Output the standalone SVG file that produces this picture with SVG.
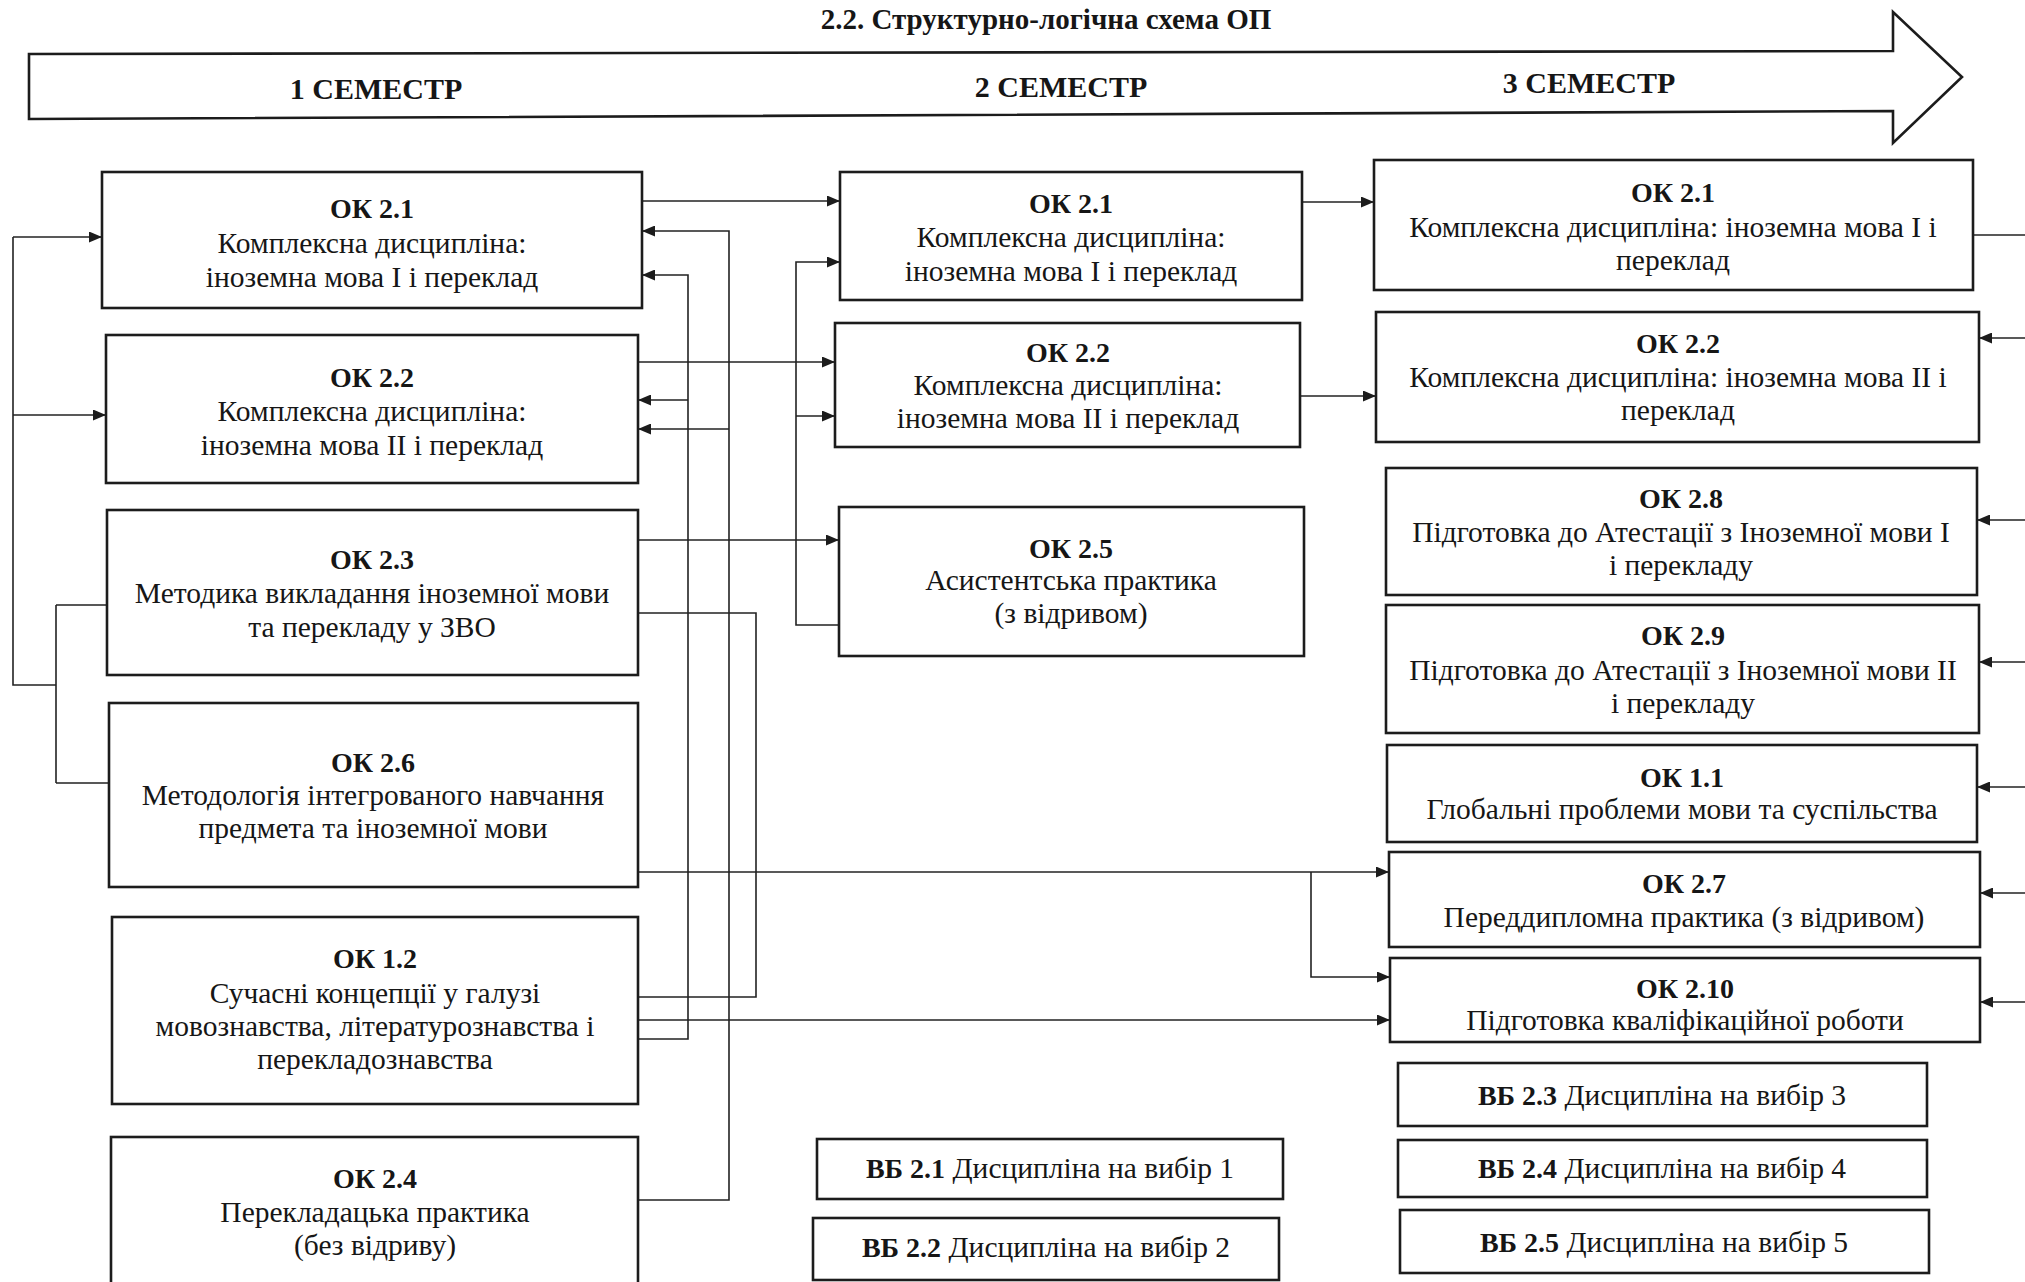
<svg xmlns="http://www.w3.org/2000/svg" width="2025" height="1282" viewBox="0 0 2025 1282">
<style>
.box{fill:#fff;stroke:#1c1c1c;stroke-width:2.6}
.ln{fill:none;stroke:#222;stroke-width:1.6}
.ar{fill:none;stroke:#222;stroke-width:1.6;marker-end:url(#ah)}
text{font-family:"Liberation Serif","Times New Roman",serif;font-size:29.5px;fill:#161616;text-anchor:middle}
.b{font-weight:bold;font-size:28px}
.sem{font-weight:bold;font-size:30px}
.ttl{font-weight:bold;font-size:29px}
</style>
<defs>
<marker id="ah" viewBox="0 0 13 11" refX="13" refY="5.5" markerWidth="13" markerHeight="11" markerUnits="userSpaceOnUse" orient="auto">
<path d="M0,0 L13,5.5 L0,11 z" fill="#1c1c1c"/>
</marker>
</defs>
<rect width="2025" height="1282" fill="#fff"/>

<g id="header">
<polygon points="29,54 1893,51 1893,12 1962,77 1893,143 1893,111 29,119" fill="#fff" stroke="#1c1c1c" stroke-width="2.6"/>
<text class="ttl" x="1046" y="29">2.2. Структурно-логічна схема ОП</text>
<text class="sem" x="376" y="99">1 СЕМЕСТР</text>
<text class="sem" x="1061" y="97">2 СЕМЕСТР</text>
<text class="sem" x="1589" y="93">3 СЕМЕСТР</text>
</g>

<g id="connectors">
<path class="ln" d="M13,237 V685 H56"/>
<path class="ar" d="M13,237 H102"/>
<path class="ar" d="M13,415 H106"/>
<path class="ln" d="M56,605 V783 M56,605 H107 M56,783 H109"/>
<path class="ar" d="M642,201 H840"/>
<path class="ar" d="M638,362 H835"/>
<path class="ar" d="M638,540 H839"/>
<path class="ar" d="M638,1200 H729 V231 H642"/>
<path class="ar" d="M729,429 H638"/>
<path class="ar" d="M638,1039 H688 V275 H642"/>
<path class="ar" d="M688,400 H638"/>
<path class="ln" d="M638,613 H756 V997 H638"/>
<path class="ar" d="M839,625 H796 V262 H840"/>
<path class="ar" d="M796,416 H835"/>
<path class="ar" d="M638,872 H1389"/>
<path class="ar" d="M1311,872 V977 H1390"/>
<path class="ar" d="M638,1020 H1390"/>
<path class="ar" d="M1302,202 H1374"/>
<path class="ar" d="M1300,396 H1376"/>
<path class="ln" d="M1973,235 H2025"/>
<path class="ar" d="M2025,338 H1979"/>
<path class="ar" d="M2025,520 H1977"/>
<path class="ar" d="M2025,662 H1979"/>
<path class="ar" d="M2025,787 H1977"/>
<path class="ar" d="M2025,893 H1980"/>
<path class="ar" d="M2025,1002 H1980"/>
</g>

<g id="c1-ok21"><rect class="box" x="102" y="172" width="540" height="136"/>
<text class="b" x="372" y="218">ОК 2.1</text><text x="372" y="253">Комплексна дисципліна:</text><text x="372" y="287">іноземна мова І і переклад</text></g>
<g id="c1-ok22"><rect class="box" x="106" y="335" width="532" height="148"/>
<text class="b" x="372" y="387">ОК 2.2</text><text x="372" y="421">Комплексна дисципліна:</text><text x="372" y="455">іноземна мова ІІ і переклад</text></g>
<g id="c1-ok23"><rect class="box" x="107" y="510" width="531" height="165"/>
<text class="b" x="372" y="569">ОК 2.3</text><text x="372" y="603">Методика викладання іноземної мови</text><text x="372" y="637">та перекладу у ЗВО</text></g>
<g id="c1-ok26"><rect class="box" x="109" y="703" width="529" height="184"/>
<text class="b" x="373" y="772">ОК 2.6</text><text x="373" y="805">Методологія інтегрованого навчання</text><text x="373" y="838">предмета та іноземної мови</text></g>
<g id="c1-ok12"><rect class="box" x="112" y="917" width="526" height="187"/>
<text class="b" x="375" y="968">ОК 1.2</text><text x="375" y="1003">Сучасні концепції у галузі</text><text x="375" y="1036">мовознавства, літературознавства і</text><text x="375" y="1069">перекладознавства</text></g>
<g id="c1-ok24"><rect class="box" x="111" y="1137" width="527" height="170"/>
<text class="b" x="375" y="1188">ОК 2.4</text><text x="375" y="1222">Перекладацька практика</text><text x="375" y="1255">(без відриву)</text></g>

<g id="c2-ok21"><rect class="box" x="840" y="172" width="462" height="128"/>
<text class="b" x="1071" y="213">ОК 2.1</text><text x="1071" y="247">Комплексна дисципліна:</text><text x="1071" y="281">іноземна мова І і переклад</text></g>
<g id="c2-ok22"><rect class="box" x="835" y="323" width="465" height="124"/>
<text class="b" x="1068" y="362">ОК 2.2</text><text x="1068" y="395">Комплексна дисципліна:</text><text x="1068" y="428">іноземна мова ІІ і переклад</text></g>
<g id="c2-ok25"><rect class="box" x="839" y="507" width="465" height="149"/>
<text class="b" x="1071" y="558">ОК 2.5</text><text x="1071" y="590">Асистентська практика</text><text x="1071" y="623">(з відривом)</text></g>
<g id="vb21"><rect class="box" x="817" y="1139" width="466" height="60"/>
<text x="1050" y="1178"><tspan class="b">ВБ 2.1</tspan> Дисципліна на вибір 1</text></g>
<g id="vb22"><rect class="box" x="813" y="1218" width="466" height="62"/>
<text x="1046" y="1257"><tspan class="b">ВБ 2.2</tspan> Дисципліна на вибір 2</text></g>

<g id="c3-ok21"><rect class="box" x="1374" y="160" width="599" height="130"/>
<text class="b" x="1673" y="202">ОК 2.1</text><text x="1673" y="237">Комплексна дисципліна: іноземна мова І і</text><text x="1673" y="270">переклад</text></g>
<g id="c3-ok22"><rect class="box" x="1376" y="312" width="603" height="130"/>
<text class="b" x="1678" y="353">ОК 2.2</text><text x="1678" y="387">Комплексна дисципліна: іноземна мова ІІ і</text><text x="1678" y="420">переклад</text></g>
<g id="c3-ok28"><rect class="box" x="1386" y="468" width="591" height="127"/>
<text class="b" x="1681" y="508">ОК 2.8</text><text x="1681" y="542">Підготовка до Атестації з Іноземної мови І</text><text x="1681" y="575">і перекладу</text></g>
<g id="c3-ok29"><rect class="box" x="1386" y="605" width="593" height="128"/>
<text class="b" x="1683" y="645">ОК 2.9</text><text x="1683" y="680">Підготовка до Атестації з Іноземної мови ІІ</text><text x="1683" y="713">і перекладу</text></g>
<g id="c3-ok11"><rect class="box" x="1387" y="745" width="590" height="97"/>
<text class="b" x="1682" y="787">ОК 1.1</text><text x="1682" y="819">Глобальні проблеми мови та суспільства</text></g>
<g id="c3-ok27"><rect class="box" x="1389" y="852" width="591" height="95"/>
<text class="b" x="1684" y="893">ОК 2.7</text><text x="1684" y="927">Переддипломна практика (з відривом)</text></g>
<g id="c3-ok210"><rect class="box" x="1390" y="958" width="590" height="84"/>
<text class="b" x="1685" y="998">ОК 2.10</text><text x="1685" y="1030">Підготовка кваліфікаційної роботи</text></g>
<g id="vb23"><rect class="box" x="1398" y="1063" width="529" height="63"/>
<text x="1662" y="1105"><tspan class="b">ВБ 2.3</tspan> Дисципліна на вибір 3</text></g>
<g id="vb24"><rect class="box" x="1398" y="1140" width="529" height="57"/>
<text x="1662" y="1178"><tspan class="b">ВБ 2.4</tspan> Дисципліна на вибір 4</text></g>
<g id="vb25"><rect class="box" x="1400" y="1210" width="529" height="63"/>
<text x="1664" y="1252"><tspan class="b">ВБ 2.5</tspan> Дисципліна на вибір 5</text></g>
</svg>
